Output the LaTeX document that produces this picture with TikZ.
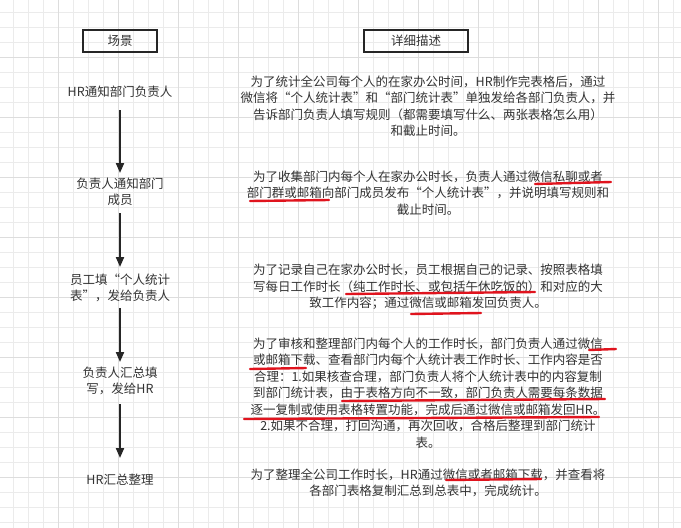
\documentclass[tikz,border=0pt]{standalone}
\usepackage{fontspec}
\setmainfont{Noto Sans CJK SC}
\usetikzlibrary{arrows.meta}
\definecolor{gridminor}{HTML}{EBEBEB}
\definecolor{gridmajor}{HTML}{DDDDDD}
\definecolor{txt}{HTML}{333333}
\definecolor{markred}{HTML}{E0141E}
\tikzset{
  scene/.style={text=txt, font=\fontsize{12.5}{16.5}\selectfont, align=center, text width=105pt},
  detail/.style={text=txt, font=\fontsize{12.5}{16.5}\selectfont, align=center},
  headbox/.style={draw=black!85, line width=1.6pt, text=txt, font=\fontsize{12.5}{15}\selectfont, inner sep=0pt},
  flow/.style={line width=2pt, draw=black!85, -{Triangle[length=10pt,width=8pt]}},
  redline/.style={draw=markred, line width=2.4pt, line cap=round},
}
\begin{document}
\begin{tikzpicture}[x=1pt, y=-1pt]
                    \useasboundingbox (0,0) rectangle (681,528);
                    \fill[white] (0,0) rectangle (681,528);

                    % grid
                    \foreach \x in {13,28,...,681} \draw[gridminor, line width=0.8pt] (\x,0) -- (\x,528);
                    \foreach \y in {12,27,...,528} \draw[gridminor, line width=0.8pt] (0,\y) -- (681,\y);
                    \foreach \x in {58,118,...,681} \draw[gridmajor, line width=1pt] (\x,0) -- (\x,528);
                    \foreach \y in {57,117,...,528} \draw[gridmajor, line width=1pt] (0,\y) -- (681,\y);

                    \node [headbox, minimum width=74pt, minimum height=22pt] (scenehead) at (120,41) {场景};
                    \node [headbox, minimum width=104pt, minimum height=22pt] (detailhead) at (416,41) {详细描述};

                    \node [scene] (s1) at (120,92)  {HR通知部门负责人};
                    \node [scene] (s2) at (120,192) {负责人通知部门\\成员};
                    \node [scene] (s3) at (120,288) {员工填“个人统计\\表”，发给负责人};
                    \node [scene] (s4) at (120,381) {负责人汇总填\\写，发给HR};
                    \node [scene] (s5) at (120,480) {HR汇总整理};

                    \draw[flow] (s1.south |- 0,110) -- (s2.north |- 0,173);
                    \draw[flow] (s2.south |- 0,213) -- (s3.north |- 0,267);
                    \draw[flow] (s3.south |- 0,308) -- (s4.north |- 0,362);
                    \draw[flow] (s4.south |- 0,404) -- (s5.north |- 0,458);

                    \node [detail] (d1) at (428,106) {为了统计全公司每个人的在家办公时间，HR制作完表格后，通过\\微信将“个人统计表”和“部门统计表”单独发给各部门负责人，并\\告诉部门负责人填写规则（都需要填写什么、两张表格怎么用）\\和截止时间。};
                    \node [detail] (d2) at (428,193) {为了收集部门内每个人在家办公时长，负责人通过微信私聊或者\\部门群或邮箱向部门成员发布“个人统计表”，并说明填写规则和\\截止时间。};
                    \node [detail] (d3) at (428,287) {为了记录自己在家办公时长，员工根据自己的记录、按照表格填\\写每日工作时长（纯工作时长、或包括午休吃饭的）和对应的大\\致工作内容；通过微信或邮箱发回负责人。};
                    \node [detail] (d4) at (428,393) {为了审核和整理部门内每个人的工作时长，部门负责人通过微信\\或邮箱下载、查看部门内每个人统计表工作时长、工作内容是否\\合理：1.如果核查合理，部门负责人将个人统计表中的内容复制\\到部门统计表，由于表格方向不一致，部门负责人需要每条数据\\逐一复制或使用表格转置功能，完成后通过微信或邮箱发回HR。\\2.如果不合理，打回沟通，再次回收，合格后整理到部门统计\\表。};
                    \node [detail] (d5) at (428,483) {为了整理全公司工作时长，HR通过微信或者邮箱下载，并查看将\\各部门表格复制汇总到总表中，完成统计。};

                    % red marks
                    \draw[redline] (535,184) -- (611,182);
                    \draw[redline] (250,201) -- (329,200);
                    \draw[redline] (346,294) -- (535,292);
                    \draw[redline] (411,314) -- (481,313);
                    \draw[redline] (589,350) -- (616,349);
                    \draw[redline] (250,369) -- (306,368);
                    \draw[redline] (342,401) -- (605,399);
                    \draw[redline] (244,419) -- (599,417);
                    \draw[redline] (446,480) -- (541,479);
                \end{tikzpicture}
\end{document}
